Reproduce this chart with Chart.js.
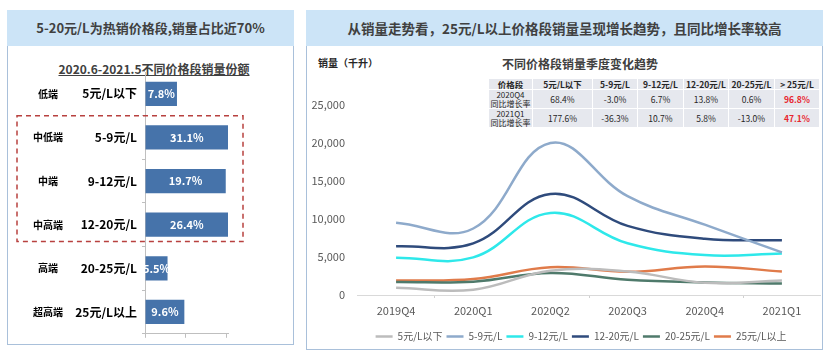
<!DOCTYPE html>
<html><head><meta charset="utf-8">
<script src="https://cdn.jsdelivr.net/npm/chart.js@4/dist/chart.umd.min.js"></script>
<style>
body{margin:0;width:831px;height:356px;background:#fff;position:relative;overflow:hidden;font-family:"Noto Sans CJK SC","Noto Sans",sans-serif;}
.abs{position:absolute;}
.band{background:#cce4f7;color:#404040;font-weight:bold;font-size:14px;text-align:center;line-height:36px;white-space:nowrap;}
.panel{border:1.5px solid #a9c0da;border-top:none;box-sizing:border-box;}
#tbl{border-collapse:collapse;table-layout:fixed;font-size:8.5px;color:#262626;}
#tbl td{background:#e6e8ee;border:1px solid #fff;text-align:center;padding:0;white-space:nowrap;overflow:hidden;}
#tbl tr.h td{font-weight:bold;height:10px;line-height:10px;}
#tbl tr.r td{height:17px;line-height:9px;}
#tbl td.lab{font-size:8px;}
#tbl td.red{color:#e8262e;font-weight:bold;}
</style></head>
<body>
<script>
// ---- left chart data ----
const tierNames = ['低端','中低端','中端','中高端','高端','超高端'];
const priceBands = ['5元/L以下','5-9元/L','9-12元/L','12-20元/L','20-25元/L','25元/L以上'];
const shares = [7.8, 31.1, 19.7, 26.4, 5.5, 9.6];
const shareTicks = [0, 10, 20];

// ---- right chart data ----
const quarters = ['2019Q4','2020Q1','2020Q2','2020Q3','2020Q4','2021Q1'];
const seriesNames = ['5元/L以下','5-9元/L','9-12元/L','12-20元/L','20-25元/L','25元/L以上'];
const below5  = [950, 700, 3200, 3100, 1600, 1900];
const p5to9   = [9500, 8750, 20000, 13000, 9250, 5600];
const p9to12  = [4900, 4950, 10800, 6800, 5250, 5450];
const p12to20 = [6400, 6800, 13300, 9100, 7400, 7200];
const p20to25 = [1700, 1750, 2900, 2000, 1650, 1520];
const above25 = [1900, 2100, 3650, 3050, 3750, 3100];
const volumeTicks = [0, 5000, 10000, 15000, 20000, 25000];

// ---- table data ----
const tableHead = ['价格段','5元/L以下','5-9元/L','9-12元/L','12-20元/L','20-25元/L','> 25元/L'];
const rowLabels = [['2020Q4','同比增长率'],['2021Q1','同比增长率']];
const growthQ4 = ['68.4%','-3.0%','6.7%','13.8%','0.6%','96.8%'];
const growthQ1 = ['177.6%','-36.3%','10.7%','5.8%','-13.0%','47.1%'];
</script>

<!-- left panel -->
<div class="abs band" style="left:7px;top:10px;width:287px;height:36px;font-size:13px;">5-20元/L为热销价格段,销量占比近70%</div>
<div class="abs panel" style="left:7px;top:46px;width:287px;height:299px;"></div>
<div class="abs" style="left:11px;top:60px;width:286px;text-align:center;font-weight:bold;font-size:12px;color:#404040;text-decoration:underline;line-height:17px;">2020.6-2021.5不同价格段销量份额</div>
<canvas id="bar" class="abs" width="286" height="300" style="left:7px;top:46px;"></canvas>

<!-- right panel -->
<div class="abs band" style="left:306px;top:10px;width:517px;height:36px;font-size:13.5px;">从销量走势看，25元/L以上价格段销量呈现增长趋势，且同比增长率较高</div>
<div class="abs panel" style="left:306px;top:46px;width:517px;height:304px;"></div>
<div class="abs" style="left:318px;top:55px;font-weight:bold;font-size:10px;color:#262626;line-height:16px;">销量（千升）</div>
<div class="abs" style="left:480px;top:55px;width:200px;text-align:center;font-weight:bold;font-size:12px;color:#404040;line-height:17px;">不同价格段销量季度变化趋势</div>
<table id="tbl" class="abs" style="left:488px;top:78px;width:331px;"></table>
<canvas id="line" class="abs" width="522" height="320" style="left:300px;top:46px;"></canvas>

<script>
Chart.defaults.font.family = '"Noto Sans CJK SC","Noto Sans",sans-serif';

// table
(function(){
  const t = document.getElementById('tbl');
  const widths = [44,60,45,46,45,46,45];
  const cg = document.createElement('colgroup');
  widths.forEach(w=>{const c=document.createElement('col');c.style.width=w+'px';cg.appendChild(c);});
  t.appendChild(cg);
  const h = document.createElement('tr'); h.className='h';
  tableHead.forEach(s=>{const td=document.createElement('td');td.textContent=s;h.appendChild(td);});
  t.appendChild(h);
  [growthQ4, growthQ1].forEach((row, r)=>{
    const tr=document.createElement('tr'); tr.className='r';
    const l=document.createElement('td'); l.className='lab'; l.innerHTML=rowLabels[r][0]+'<br>'+rowLabels[r][1]; tr.appendChild(l);
    row.forEach((v,i)=>{const td=document.createElement('td');td.textContent=v;if(i===row.length-1)td.className='red';tr.appendChild(td);});
    t.appendChild(tr);
  });
})();

// left bar chart
const barDecor = {
  id:'barDecor',
  afterDatasetsDraw(chart){
    const ctx = chart.ctx, y = chart.scales.y, a = chart.chartArea;
    const meta = chart.getDatasetMeta(0);
    ctx.save();
    ctx.fillStyle = '#fff';
    ctx.font = 'bold 11px "Noto Sans CJK SC", sans-serif';
    ctx.textAlign = 'center'; ctx.textBaseline = 'middle';
    meta.data.forEach((el, i)=>{
      const x1 = Math.min(el.x, a.right);
      ctx.fillText(shares[i].toFixed(1)+'%', (el.base + x1)/2, el.y);
    });
    ctx.fillStyle = '#000';
    ctx.font = 'bold 10px "Noto Sans CJK SC", sans-serif';
    tierNames.forEach((s,i)=>ctx.fillText(s, 41, y.getPixelForValue(i)));
    const top = (y.getPixelForValue(0)+y.getPixelForValue(1))/2;
    const bottom = (y.getPixelForValue(3)+y.getPixelForValue(4))/2 - 5;
    ctx.strokeStyle = '#b8413f'; ctx.lineWidth = 1.5; ctx.setLineDash([5,4]);
    ctx.strokeRect(10, top, 226, bottom-top);
    ctx.restore();
  }
};
new Chart(document.getElementById('bar'), {
  type:'bar',
  data:{labels:priceBands, datasets:[{data:shares, backgroundColor:'#4673aa', barPercentage:1, categoryPercentage:25/45, clip:0}]},
  options:{
    indexAxis:'y', responsive:false, animation:false, devicePixelRatio:1,
    layout:{padding:{top:26,left:0,right:65,bottom:0}},
    plugins:{legend:{display:false}, tooltip:{enabled:false}},
    scales:{
      x:{min:0, max:20.25,
         afterBuildTicks:s=>{s.ticks = shareTicks.map(v=>({value:v}));},
         ticks:{display:false},
         grid:{drawOnChartArea:false, drawTicks:true, tickLength:4, color:'#bfbfbf'},
         border:{color:'#bfbfbf'},
         afterFit:s=>{s.height=4;}},
      y:{ticks:{color:'#000', font:{size:12, weight:'bold'}, padding:5},
         grid:{drawOnChartArea:false, drawTicks:true, tickLength:3, color:'#bfbfbf', offset:true},
         border:{color:'#bfbfbf'},
         afterFit:s=>{s.width=138;}}
    }
  },
  plugins:[barDecor]
});

// right line chart
const colors = ['#bcbcbc','#8eaacb','#2ee8ea','#2f4b7c','#4f7a6b','#e07b4a'];
const seriesData = [below5, p5to9, p9to12, p12to20, p20to25, above25];
const legendShift = {
  id:'legendShift',
  afterLayout(chart){ const l = chart.legend; if (l) { l.left -= 8; l.right -= 8; } }
};
new Chart(document.getElementById('line'), {
  type:'line',
  data:{labels:quarters, datasets:seriesData.map((d,i)=>({label:seriesNames[i], data:d, borderColor:colors[i], backgroundColor:colors[i], borderWidth:2.5, pointRadius:0, tension:0.4, fill:false}))},
  options:{
    responsive:false, animation:false, devicePixelRatio:1,
    layout:{padding:{top:59,left:0,right:1.5,bottom:14.5}},
    plugins:{
      tooltip:{enabled:false},
      legend:{position:'bottom', fullSize:false,
        labels:{usePointStyle:true, pointStyle:'line', pointStyleWidth:17, padding:4, color:'#595959', font:{size:10}}}
    },
    scales:{
      x:{offset:true,
         ticks:{color:'#595959', font:{size:11}, padding:6, maxRotation:0},
         grid:{offset:true, drawOnChartArea:false, drawTicks:true, tickLength:3,
               color:c=>([1,3,5].includes(c.index)?'#d0d0d0':'rgba(0,0,0,0)')},
         border:{color:'#d9d9d9'},
         afterFit:s=>{s.height=32.5;}},
      y:{min:0, max:25000,
         afterBuildTicks:s=>{s.ticks = volumeTicks.map(v=>({value:v}));},
         ticks:{color:'#595959', font:{size:11}, padding:12.5, callback:v=>v.toLocaleString('en-US')},
         grid:{display:false, drawTicks:false},
         border:{display:false},
         afterFit:s=>{s.width=57.5;}}
    }
  },
  plugins:[legendShift]
});
</script>
</body></html>
